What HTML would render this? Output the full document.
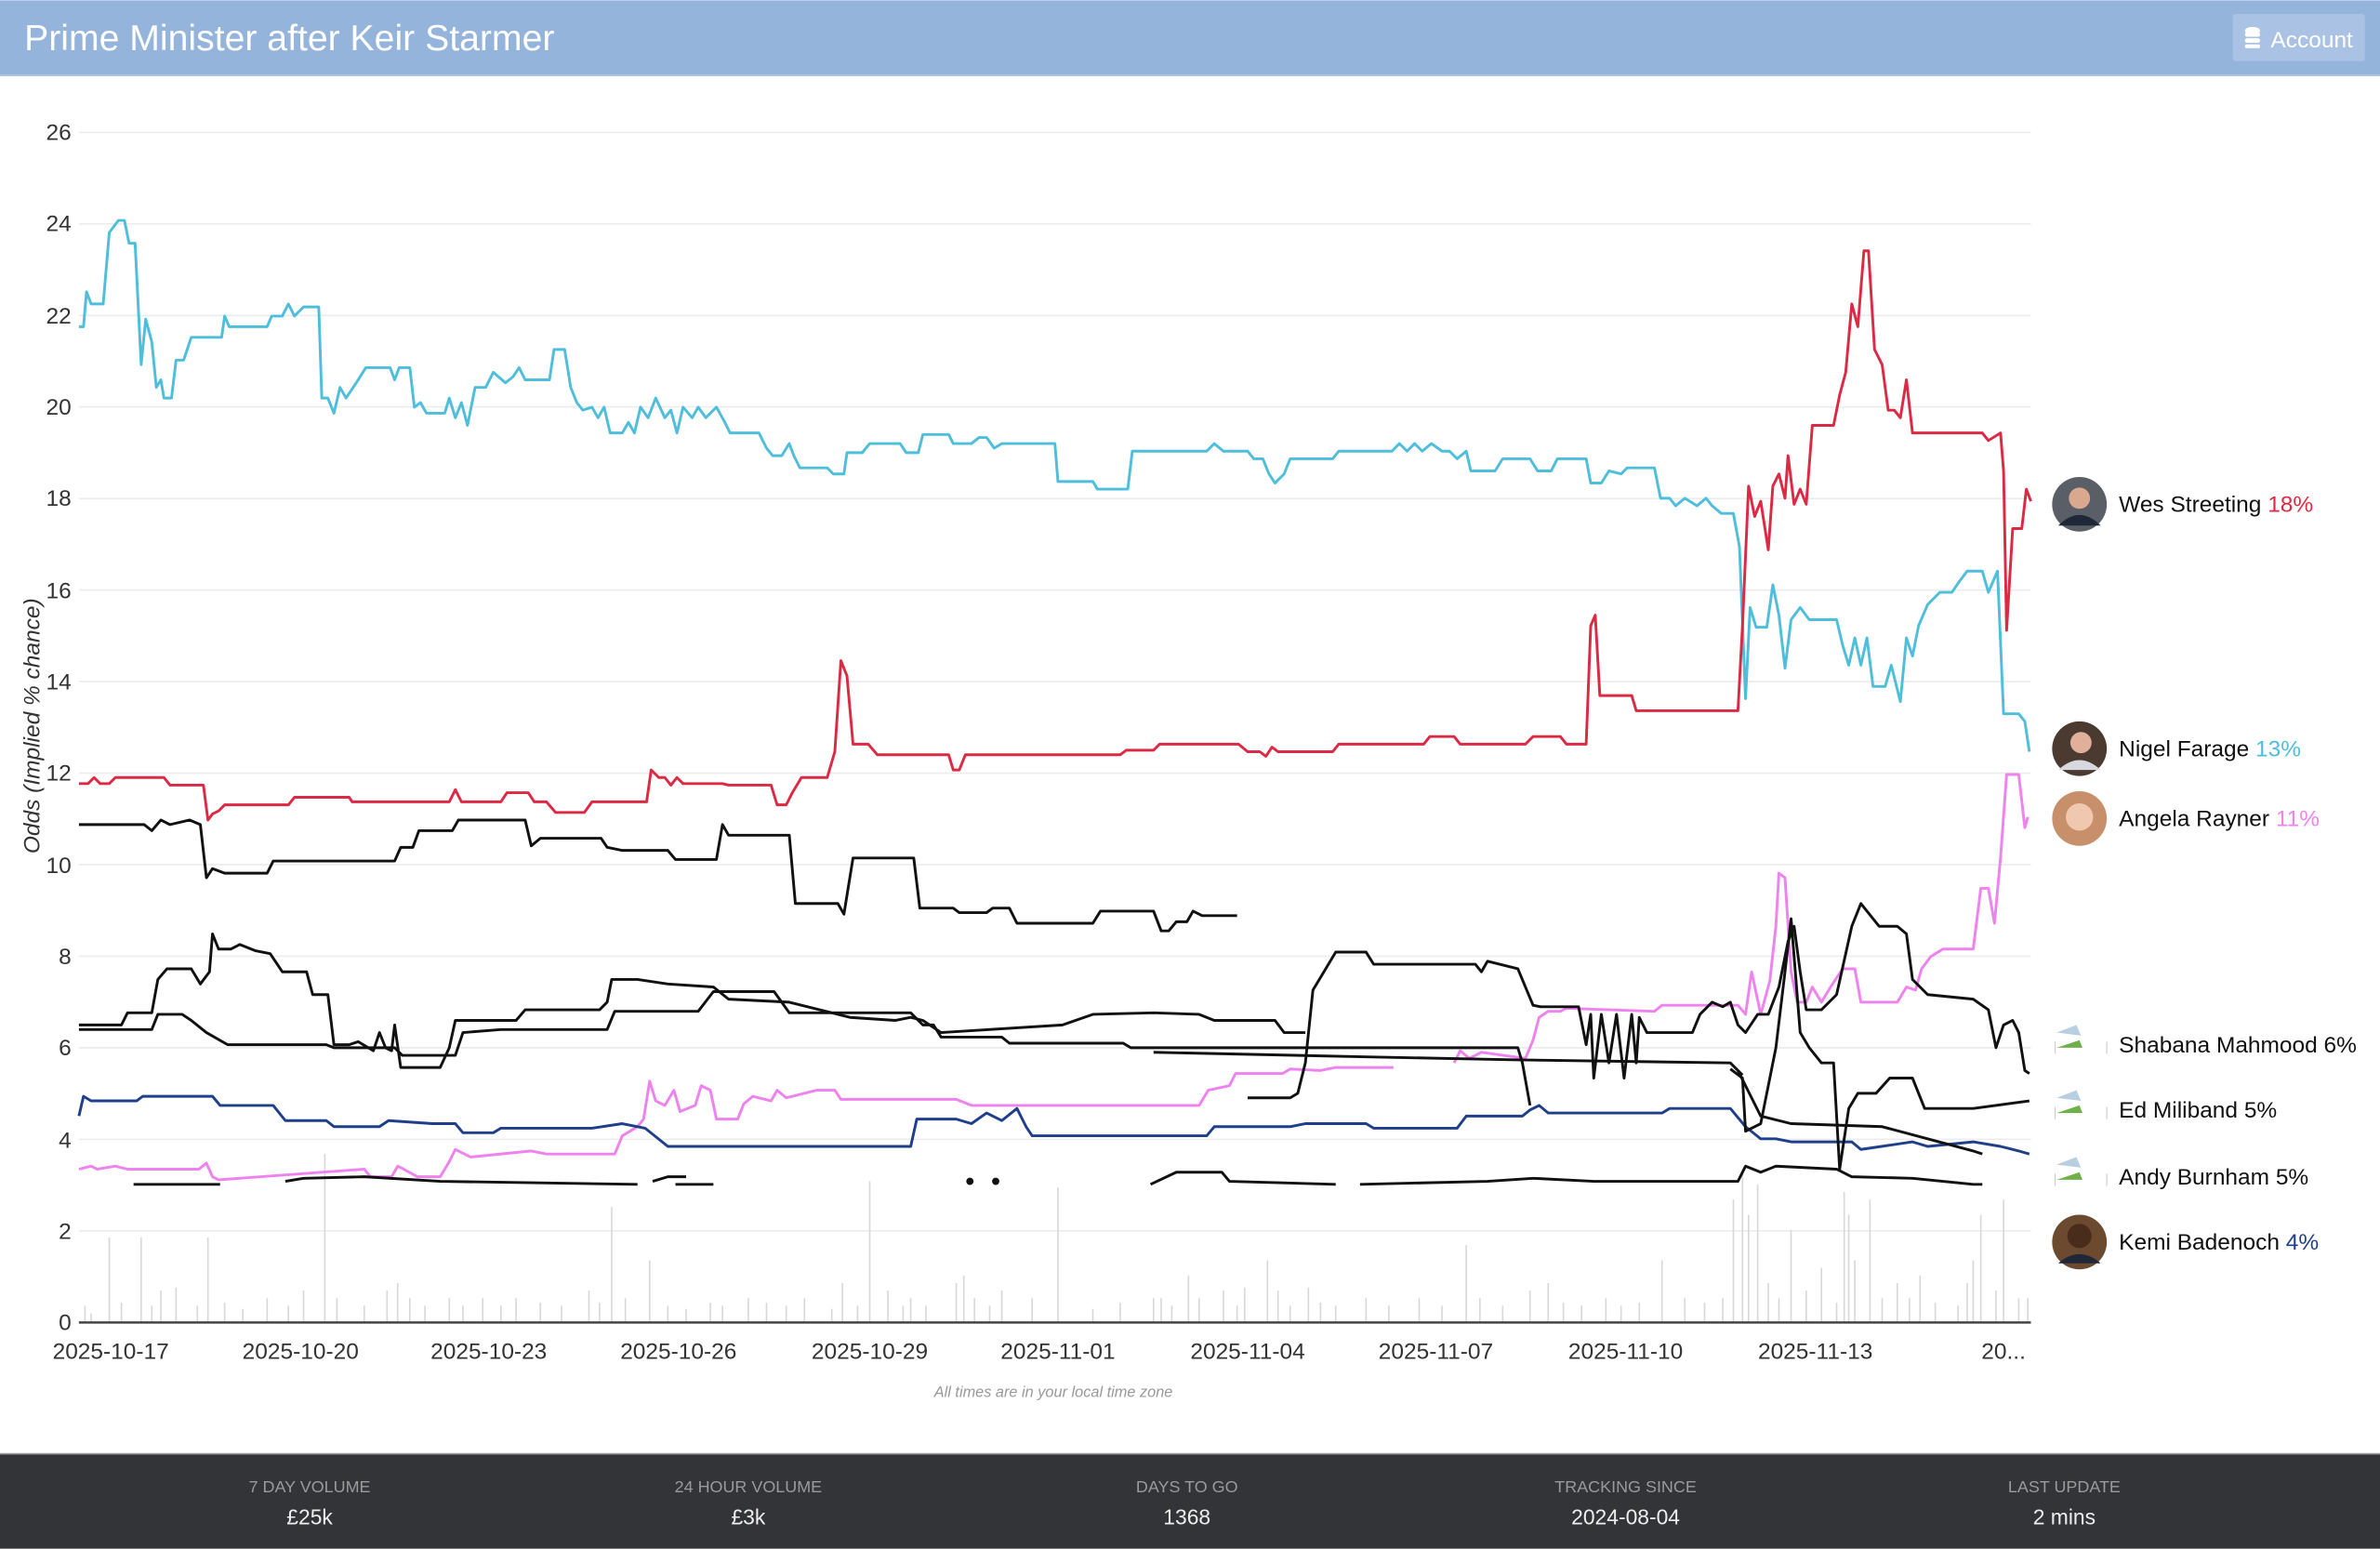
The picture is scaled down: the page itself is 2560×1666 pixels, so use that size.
<!DOCTYPE html>
<html><head><meta charset="utf-8"><style>
html,body{margin:0;padding:0;background:#fff;}
svg{display:block;font-family:"Liberation Sans",Arial,sans-serif;}
</style></head><body>
<svg width="2560" height="1666" viewBox="0 0 1568 1020" xmlns="http://www.w3.org/2000/svg">
<rect width="1568" height="1020" fill="#fff"/>
<rect width="1568" height="49" fill="#94b4dc"/>
<rect y="49" width="1568" height="1" fill="#a9c1e2"/>
<text x="16" y="33" font-size="24" fill="#fff">Prime Minister after Keir Starmer</text>
<rect x="1471" y="9" width="87" height="31" rx="2" fill="#aac3e4"/>
<g fill="#fff"><ellipse cx="1484" cy="20" rx="5" ry="2.5"/><rect x="1479" y="21" width="10" height="3" rx="1.5"/><rect x="1479" y="25" width="10" height="3" rx="1.5"/><rect x="1479" y="29" width="10" height="2.5" rx="1.2"/></g>
<text x="1496" y="31" font-size="15" fill="#fff">Account</text>

<g stroke="#ececec" stroke-width="1">
<line x1="52" x2="1338" y1="87" y2="87"/><line x1="52" x2="1338" y1="147.3" y2="147.3"/><line x1="52" x2="1338" y1="207.6" y2="207.6"/><line x1="52" x2="1338" y1="267.9" y2="267.9"/><line x1="52" x2="1338" y1="328.2" y2="328.2"/><line x1="52" x2="1338" y1="388.5" y2="388.5"/><line x1="52" x2="1338" y1="448.8" y2="448.8"/><line x1="52" x2="1338" y1="509.1" y2="509.1"/><line x1="52" x2="1338" y1="569.4" y2="569.4"/><line x1="52" x2="1338" y1="629.7" y2="629.7"/><line x1="52" x2="1338" y1="690" y2="690"/><line x1="52" x2="1338" y1="750.3" y2="750.3"/><line x1="52" x2="1338" y1="810.6" y2="810.6"/>
</g>
<g font-size="15" fill="#333" text-anchor="end">
<text x="47" y="92">26</text><text x="47" y="152">24</text><text x="47" y="213">22</text><text x="47" y="273">20</text><text x="47" y="333">18</text><text x="47" y="394">16</text><text x="47" y="454">14</text><text x="47" y="514">12</text><text x="47" y="575">10</text><text x="47" y="635">8</text><text x="47" y="695">6</text><text x="47" y="756">4</text><text x="47" y="816">2</text><text x="47" y="876">0</text>
</g>
<text transform="translate(26,478) rotate(-90)" font-size="15" font-style="italic" fill="#333" text-anchor="middle">Odds (Implied % chance)</text>

<path stroke="#d8d8d8" stroke-width="1" fill="none" d="M56 871V860M60 871V865M72 871V815M80 871V858M93 871V815M100 871V860M106 871V850M116 871V848M130 871V860M137 871V815M148 871V858M160 871V862M176 871V855M190 871V860M200 871V850M214 871V760M222 871V855M240 871V860M255 871V850M262 871V845M270 871V855M280 871V860M296 871V855M305 871V860M318 871V855M330 871V860M340 871V855M356 871V858M370 871V860M388 871V850M395 871V858M403 871V795M412 871V855M428 871V830M440 871V860M452 871V862M468 871V858M476 871V860M493 871V855M505 871V858M518 871V860M530 871V855M548 871V862M555 871V845M565 871V860M573 871V778M585 871V850M595 871V860M600 871V855M610 871V860M630 871V845M635 871V840M642 871V855M652 871V860M660 871V850M680 871V855M697 871V782M720 871V862M738 871V858M760 871V855M765 871V855M772 871V860M783 871V840M790 871V855M806 871V850M815 871V860M820 871V848M835 871V830M842 871V850M850 871V860M862 871V848M870 871V858M880 871V860M900 871V855M915 871V860M935 871V855M950 871V860M966 871V820M975 871V855M990 871V860M1008 871V850M1020 871V845M1030 871V858M1042 871V860M1058 871V855M1068 871V860M1080 871V858M1095 871V830M1110 871V855M1123 871V858M1135 871V855M1142 871V790M1148 871V770M1152 871V800M1158 871V780M1165 871V845M1172 871V855M1180 871V810M1190 871V850M1200 871V835M1210 871V858M1215 871V785M1218 871V800M1222 871V830M1232 871V790M1240 871V855M1250 871V845M1258 871V855M1265 871V840M1275 871V858M1290 871V860M1296 871V845M1300 871V830M1305 871V800M1315 871V850M1320 871V790M1330 871V855M1336 871V855"/>
<line x1="52" x2="1338" y1="871" y2="871" stroke="#444" stroke-width="1.5"/>

<g fill="none" stroke-width="1.8" stroke-linejoin="round">
<polyline stroke="#4fbedb" points="52,215 55,215 57,192 60,200 68,200 72,153 78,145 82,145 85,160 89,160 93,240 96,210 100,225 103,255 106,250 108,262 113,262 116,237 121,237 126,222 146,222 148,208 151,215 176,215 179,208 186,208 190,200 194,208 200,202 210,202 212,262 216,262 220,272 224,255 228,262 236,250 241,242 257,242 260,250 263,242 270,242 273,268 277,265 281,272 293,272 296,262 300,275 304,265 308,280 313,255 320,255 325,245 333,252 338,248 342,242 346,250 362,250 365,230 372,230 376,255 380,265 384,270 390,268 394,275 398,268 402,285 410,285 414,278 418,285 422,268 427,275 432,262 438,275 442,270 446,285 450,268 456,275 460,268 465,275 472,268 477,277 481,285 500,285 505,295 509,300 515,300 520,292 523,300 527,308 545,308 549,312 556,312 558,298 568,298 573,292 593,292 597,298 605,298 608,286 625,286 628,292 640,292 645,288 650,288 655,295 660,292 695,292 697,317 720,317 723,322 743,322 746,297 795,297 800,292 806,297 822,297 826,302 832,302 836,312 840,318 846,312 850,302 878,302 882,297 917,297 922,292 927,297 932,292 937,297 943,292 950,297 955,297 960,302 966,297 969,310 985,310 990,302 1008,302 1013,310 1022,310 1026,302 1045,302 1048,318 1055,318 1060,310 1068,312 1072,308 1090,308 1094,328 1100,328 1104,333 1110,328 1118,333 1124,328 1128,333 1134,338 1142,338 1146,360 1150,460 1153,400 1157,413 1164,413 1168,385 1172,405 1176,440 1180,408 1186,400 1192,408 1210,408 1214,425 1218,438 1222,420 1226,438 1230,420 1234,452 1242,452 1246,438 1252,462 1256,420 1260,432 1264,412 1270,398 1278,390 1286,390 1290,384 1296,376 1306,376 1310,390 1316,376 1320,470 1330,470 1334,475 1337,495"/>
<polyline stroke="#dc2a45" points="52,516 58,516 62,512 66,516 72,516 76,512 108,512 112,517 134,517 137,540 140,536 144,534 148,530 190,530 194,525 230,525 232,528 296,528 300,520 304,528 330,528 334,522 348,522 352,528 360,528 366,535 385,535 390,528 426,528 429,507 434,512 438,512 442,517 446,512 450,516 476,516 480,517 508,517 512,530 518,530 522,522 528,512 545,512 550,495 554,435 558,445 562,490 572,490 578,497 625,497 628,507 632,507 636,497 738,497 742,494 760,494 764,490 816,490 822,495 830,495 834,498 838,492 842,495 878,495 882,490 938,490 942,485 958,485 962,490 1005,490 1010,485 1028,485 1032,490 1045,490 1048,412 1051,405 1054,458 1075,458 1078,468 1145,468 1148,412 1152,320 1156,340 1160,330 1165,362 1168,320 1172,312 1176,328 1178,300 1182,332 1186,322 1190,332 1194,280 1208,280 1212,260 1216,245 1220,200 1224,215 1228,165 1231,165 1235,230 1240,240 1244,270 1248,270 1252,275 1256,250 1260,285 1306,285 1310,290 1318,285 1320,310 1322,415 1326,348 1332,348 1335,322 1338,330"/>
<polyline stroke="#ee82ee" points="52,770 60,768 64,770 76,768 84,770 131,770 136,766 140,775 144,777 240,770 244,775 258,775 262,768 266,770 275,775 290,775 296,765 300,757 310,762 350,758 360,760 405,760 410,748 420,742 424,737 428,712 432,725 438,728 444,718 448,732 458,728 462,715 468,718 472,737 486,737 490,727 496,722 508,725 512,718 518,723 538,718 550,718 554,724 630,724 640,728 790,728 796,718 810,715 814,707 845,707 850,704 870,705 880,703 918,703"/>
<polyline stroke="#ee82ee" points="958,700 962,692 968,697 976,693 1005,697 1010,685 1014,670 1020,666 1028,666 1032,664 1090,666 1095,662 1145,662 1150,668 1154,640 1160,668 1166,646 1170,610 1172,575 1176,578 1180,640 1184,660 1190,660 1194,650 1200,660 1206,650 1214,638 1222,638 1226,660 1250,660 1256,650 1262,652 1266,638 1272,630 1280,625 1300,625 1305,585 1310,585 1314,608 1318,565 1322,510 1330,510 1334,545 1336,538"/>
<polyline stroke="#1f3f8a" points="52,735 55,722 60,725 90,725 94,722 140,722 145,728 180,728 188,738 215,738 220,742 250,742 256,738 285,740 300,740 305,746 325,746 330,743 390,743 410,740 425,743 440,755 600,755 604,737 630,737 640,740 650,733 660,738 670,730 676,742 680,748 795,748 800,742 850,742 860,740 900,740 905,743 960,743 966,735 1003,735 1008,731 1014,728 1020,733 1095,733 1100,730 1140,730 1150,742 1160,750 1170,750 1180,752 1220,752 1226,757 1260,752 1270,755 1300,752 1318,755 1330,758 1337,760"/>
<g stroke="#111">
<polyline points="52,543 95,543 100,547 106,540 112,543 125,540 132,543 136,578 140,572 148,575 176,575 180,567 260,567 264,558 272,558 276,547 298,547 302,540 346,540 350,557 356,552 396,552 400,558 410,560 440,560 445,566 472,566 476,543 480,550 520,550 524,595 552,595 556,602 562,565 602,565 606,598 628,598 632,601 650,601 654,598 665,598 670,608 720,608 725,600 760,600 765,613 770,613 775,607 782,607 786,600 792,603 815,603"/>
<polyline points="52,678 100,678 104,668 120,668 126,672 136,680 150,688 215,688 220,690 260,690 265,695 300,695 305,680 330,678 400,678 405,666 460,666 470,653 510,653 515,660 520,667 600,667 608,675 615,675 620,683 660,683 665,687 740,687 745,690 1000,690 1003,700 1008,728"/>
<polyline points="760,693 900,696 1000,698 1140,700 1148,708"/>
<polyline points="52,675 80,675 84,667 100,667 104,645 110,638 126,638 132,648 138,640 140,615 144,625 152,625 158,622 168,626 178,628 186,640 202,640 206,655 216,655 220,688 230,688 236,686 246,692 250,680 254,690 258,692 260,675 264,703 290,703 296,690 300,672 340,672 346,665 395,665 400,660 403,645 420,645 440,648 470,650 480,658 520,660 560,670 590,672 600,670 608,672 620,680 700,675 720,668 760,667 790,668 800,672 840,672 846,680 860,680"/>
<polyline points="822,723 850,723 855,720 860,700 865,652 880,627 900,627 905,635 972,635 976,640 980,633 1000,638 1005,650 1010,662 1015,663 1040,663 1045,688 1048,668 1050,710 1055,668 1060,700 1065,668 1070,710 1075,668 1078,700 1080,670 1085,680 1115,680 1120,668 1128,660 1135,663 1140,660 1145,675 1150,680 1158,668 1165,668 1172,650 1178,620 1182,610 1186,640 1190,665 1200,665 1210,655 1220,610 1226,595 1238,610 1250,610 1256,615 1260,645 1270,655 1300,658 1310,665 1315,690 1320,675 1326,672 1330,680 1334,705 1337,707"/>
<polyline points="1140,704 1148,710 1150,745 1160,740 1170,690 1176,640 1180,605 1186,680 1192,690 1200,700 1208,700 1212,770 1218,730 1224,720 1236,720 1245,710 1260,710 1268,730 1300,730 1337,725"/>
<polyline points="1145,705 1160,735 1180,740 1240,742 1300,758 1306,760"/>
<polyline points="88,780 145,780"/>
<polyline points="188,778 200,776 240,775 290,778 420,780"/>
<polyline points="430,778 440,775 452,775"/>
<polyline points="445,780 470,780"/>
<polyline points="758,780 775,772 805,772 810,778 880,780"/>
<polyline points="896,780 980,778 1010,776 1050,778 1145,778 1150,768 1160,772 1170,768 1210,770 1220,775 1260,776 1300,780 1306,780"/>
<circle cx="639" cy="778" r="1.5" fill="#111"/><circle cx="656" cy="778" r="1.5" fill="#111"/>
</g>
</g>

<g font-size="15" fill="#333" text-anchor="middle">
<text x="73" y="895">2025-10-17</text><text x="198" y="895">2025-10-20</text><text x="322" y="895">2025-10-23</text><text x="447" y="895">2025-10-26</text><text x="573" y="895">2025-10-29</text><text x="697" y="895">2025-11-01</text><text x="822" y="895">2025-11-04</text><text x="946" y="895">2025-11-07</text><text x="1071" y="895">2025-11-10</text><text x="1196" y="895">2025-11-13</text><text x="1320" y="895">20...</text>
</g>
<text x="694" y="920" font-size="10" font-style="italic" fill="#999" text-anchor="middle">All times are in your local time zone</text>

<g font-size="15" fill="#111">
<circle cx="1370" cy="332" r="18" fill="#5a5e66"/><circle cx="1370" cy="328" r="7" fill="#d9a88e"/><path d="M1356 346 Q1370 332 1384 346 Z" fill="#1e2838"/>
<text x="1396" y="337">Wes Streeting <tspan fill="#dc2a45">18%</tspan></text>
<circle cx="1370" cy="493" r="18" fill="#4a3a30"/><circle cx="1371" cy="489" r="7" fill="#e0b09a"/><path d="M1356 507 Q1370 494 1384 507 Z" fill="#d8d8e0"/>
<text x="1396" y="498">Nigel Farage <tspan fill="#4fbedb">13%</tspan></text>
<circle cx="1370" cy="539" r="18" fill="#c8906a"/><circle cx="1370" cy="538" r="9" fill="#f0c8b0"/>
<text x="1396" y="544">Angela Rayner <tspan fill="#ee82ee">11%</tspan></text>
<g fill="none" stroke="#ccc" stroke-width="0.7"><path d="M1354 686 V694 M1388 686 V694"/><path d="M1354 729 V737 M1388 729 V737"/><path d="M1354 773 V781 M1388 773 V781"/></g>
<g><path d="M1355 680 L1368 675 L1371 682 Z" fill="#b8cfe0"/><path d="M1355 690 L1370 685 L1372 690 Z" fill="#6fb04a"/>
<path d="M1355 723 L1368 718 L1371 725 Z" fill="#b8cfe0"/><path d="M1355 733 L1370 728 L1372 733 Z" fill="#6fb04a"/>
<path d="M1355 767 L1368 762 L1371 769 Z" fill="#b8cfe0"/><path d="M1355 777 L1370 772 L1372 777 Z" fill="#6fb04a"/></g>
<text x="1396" y="693">Shabana Mahmood 6%</text>
<text x="1396" y="736">Ed Miliband 5%</text>
<text x="1396" y="780">Andy Burnham 5%</text>
<circle cx="1370" cy="818" r="18" fill="#6b4a30"/><circle cx="1370" cy="814" r="8" fill="#4a2c1c"/><path d="M1356 832 Q1370 820 1384 832 Z" fill="#1e2838"/>
<text x="1396" y="823">Kemi Badenoch <tspan fill="#1f3f8a">4%</tspan></text>
</g>

<rect y="957" width="1568" height="1" fill="#999"/>
<rect y="958" width="1568" height="62" fill="#333438"/>
<g text-anchor="middle">
<g font-size="11" fill="#9a9a9a"><text x="204" y="983">7 DAY VOLUME</text><text x="493" y="983">24 HOUR VOLUME</text><text x="782" y="983">DAYS TO GO</text><text x="1071" y="983">TRACKING SINCE</text><text x="1360" y="983">LAST UPDATE</text></g>
<g font-size="14" fill="#eee"><text x="204" y="1004">£25k</text><text x="493" y="1004">£3k</text><text x="782" y="1004">1368</text><text x="1071" y="1004">2024-08-04</text><text x="1360" y="1004">2 mins</text></g>
</g>
</svg>
</body></html>
